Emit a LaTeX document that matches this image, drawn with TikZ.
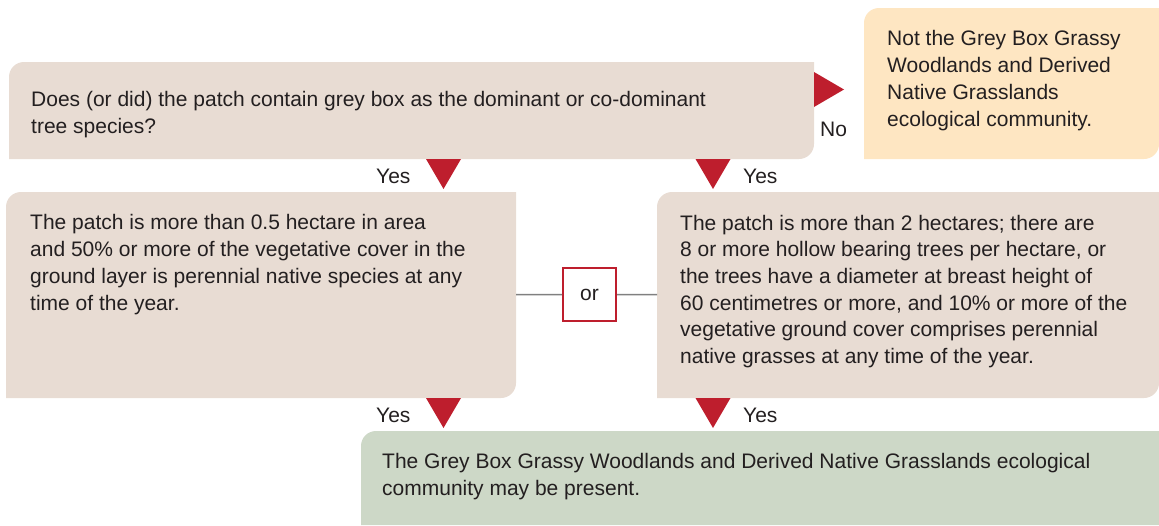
\documentclass[tikz,border=0pt]{standalone}
\usepackage{fontspec}
\setmainfont{Liberation Sans}
\usepackage{tikz}

\definecolor{panelbeige}{HTML}{E8DCD3}
\definecolor{panelcream}{HTML}{FEE6C2}
\definecolor{panelgreen}{HTML}{CDD8C7}
\definecolor{markred}{HTML}{BE1E2D}
\definecolor{inkgrey}{HTML}{231F20}
\definecolor{linkgrey}{HTML}{808080}

\newcommand{\crad}{15pt}

\tikzset{
  panel/.style={rectangle, inner sep=0pt, outer sep=0pt, anchor=north west, fill=white,
    path picture={\fill[#1] (path picture bounding box.south west)
      -- ([yshift=-\crad]path picture bounding box.north west)
      arc[start angle=180, end angle=90, radius=\crad]
      -- (path picture bounding box.north east)
      -- ([yshift=\crad]path picture bounding box.south east)
      arc[start angle=0, end angle=-90, radius=\crad] -- cycle;}},
  toppanel/.style={rectangle, inner sep=0pt, outer sep=0pt, anchor=north west, fill=white,
    path picture={\fill[#1] (path picture bounding box.south west)
      -- ([yshift=-\crad]path picture bounding box.north west)
      arc[start angle=180, end angle=90, radius=\crad]
      -- (path picture bounding box.north east)
      -- (path picture bounding box.south east) -- cycle;}},
  txt/.style={anchor=base west, inner sep=0pt, align=left, text=inkgrey,
    font=\fontsize{21}{26.7}\selectfont},
  tri/.style={fill=markred},
  link/.style={draw=linkgrey, line width=1.5pt}
}

\begin{document}
\begin{tikzpicture}[x=1pt,y=-1pt]
		\useasboundingbox (0,0) rectangle (1159,525);
		% boxes
		\node[panel=panelbeige, minimum width=805, minimum height=97] (qbox) at (9,62) {};
		\node[panel=panelcream, minimum width=295, minimum height=151] (notbox) at (864,8) {};
		\node[panel=panelbeige, minimum width=510, minimum height=206] (lbox) at (6,192) {};
		\node[panel=panelbeige, minimum width=502, minimum height=206] (rbox) at (657,192) {};
		\node[toppanel=panelgreen, minimum width=798, minimum height=94] (resbox) at (361,431) {};
		\node[draw=markred, fill=white, line width=2pt, minimum width=53, minimum height=53,
			inner sep=0pt, text=inkgrey, font=\fontsize{21}{26.7}\selectfont] (orbox) at (589.5,294.5) {or};
		\draw[link] (lbox) -- (orbox) -- (rbox);
		% texts (anchored on the last line)
		\node[txt] (qtext) at (31,133) {Does (or did) the patch contain grey box as the dominant or co-dominant\\tree species?};
		\node[txt] (nottext) at (887,126) {Not the Grey Box Grassy\\Woodlands and Derived\\Native Grasslands\\ecological community.};
		\node[txt] (ltext) at (30,310) {The patch is more than 0.5 hectare in area\\and 50\% or more of the vegetative cover in the\\ground layer is perennial native species at any\\time of the year.};
		\node[txt] (rtext) at (680,363.5) {The patch is more than 2 hectares; there are\\8 or more hollow bearing trees per hectare, or\\the trees have a diameter at breast height of\\60 centimetres or more, and 10\% or more of the\\vegetative ground cover comprises perennial\\native grasses at any time of the year.};
		\node[txt] (restext) at (382,495) {The Grey Box Grassy Woodlands and Derived Native Grasslands ecological\\community may be present.};
		% markers
		\fill[tri] (qbox.east |- 0,72) -- (844,89.5) -- (814,107) -- cycle;
		\coordinate (t1) at (443.5,159);
		\coordinate (t2) at (713,159);
		\coordinate (t3) at (443.5,398);
		\coordinate (t4) at (713,398);
		\foreach \t in {t1,t2,t3,t4}
			\fill[tri] (\t) ++(-17.5,0) -- ++(35,0) -- ++(-17.5,30) -- cycle;
		\node[txt] (no) at (820,136) {No};
		\node[txt] (yes1) at (376,183) {Yes};
		\node[txt] (yes2) at (743,183) {Yes};
		\node[txt] (yes3) at (376,422) {Yes};
		\node[txt] (yes4) at (743,422) {Yes};
	\end{tikzpicture}
\end{document}
